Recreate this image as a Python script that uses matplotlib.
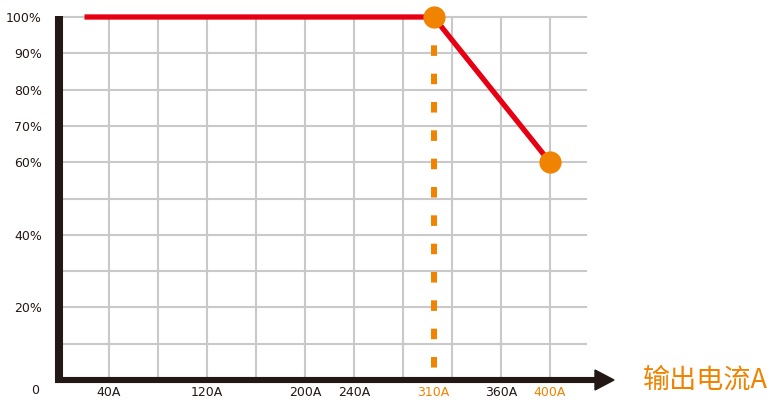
import matplotlib
matplotlib.use("Agg")
import matplotlib.pyplot as plt
from matplotlib.lines import Line2D
from matplotlib.patches import Polygon

plt.rcParams['font.family'] = ['Noto Sans CJK SC', 'DejaVu Sans']
plt.rcParams['lines.scale_dashes'] = False

# ---- data ----
curve_current = [20, 305, 400]          # A (knee drawn where picture shows it)
curve_percent = [100, 100, 60]          # % output
point_current = [305, 400]
point_percent = [100, 60]
knee_current = 305
knee_label = "310A"

x_ticks = [40, 120, 200, 240, 305, 360, 400]
x_labels = ["40A", "120A", "200A", "240A", knee_label, "360A", "400A"]
x_label_orange = [False, False, False, False, True, False, True]
y_ticks = [100, 90, 80, 70, 60, 40, 20]
y_labels = ["100%", "90%", "80%", "70%", "60%", "40%", "20%"]
x_grid = [40, 80, 120, 160, 200, 240, 280, 320, 360, 400]
y_grid = [10, 20, 30, 40, 50, 60, 70, 80, 90, 100]
x_title = "输出电流A"
y_title = "输出功率%"

RED = "#e60012"
ORANGE = "#f08300"
DARK = "#231815"
GRID = "#c9c9c9"

W, H = 779, 400
fig = plt.figure(figsize=(W / 100, H / 100), dpi=100)

def fx(px):
    return px / W

def fy(py):
    return 1 - py / H

ax = fig.add_axes([fx(60), fy(380), fx(586) - fx(60), fy(17) - fy(380)])
ax.set_xlim(0, 429.4)
ax.set_ylim(0, 100)
for s in ax.spines.values():
    s.set_visible(False)

# grid
for gx in x_grid:
    ax.axvline(gx, color=GRID, lw=1.5, zorder=1)
for gy in y_grid:
    ax.axhline(gy, color=GRID, lw=1.5, zorder=1, clip_on=False)

# dashed knee line
ln, = ax.plot([knee_current, knee_current], [100, 3], color=ORANGE, lw=4.3,
              solid_capstyle='butt', dash_capstyle='butt', zorder=3)
ln.set_dashes((7.6, 12.8))

# derating curve
ax.plot(curve_current, curve_percent, color=RED, lw=3.8, solid_capstyle='butt',
        zorder=4, clip_on=False)
ax.plot(point_current, point_percent, 'o', color=ORANGE, ms=16, mew=0,
        zorder=5, clip_on=False)

# ticks
ax.set_xticks(x_ticks)
ax.set_xticklabels(x_labels)
ax.set_yticks(y_ticks)
ax.set_yticklabels(y_labels)
ax.tick_params(axis='both', length=0, labelsize=9, labelcolor=DARK)
ax.tick_params(axis='x', pad=4.5)
ax.tick_params(axis='y', pad=13)
for lab, orange in zip(ax.get_xticklabels(), x_label_orange):
    if orange:
        lab.set_color(ORANGE)
for lab in ax.get_xticklabels() + ax.get_yticklabels():
    lab.set_family('DejaVu Sans')

# axes lines (thick L with arrow)
fig.add_artist(Line2D([fx(59), fx(59)], [fy(16), fy(383)], color=DARK, lw=5.8,
                      solid_capstyle='butt', transform=fig.transFigure))
fig.add_artist(Line2D([fx(55), fx(597)], [fy(380), fy(380)], color=DARK, lw=4.4,
                      solid_capstyle='butt', transform=fig.transFigure))
fig.add_artist(Polygon([(fx(595), fy(370)), (fx(614), fy(380)), (fx(595), fy(390))],
                       closed=True, color=DARK, transform=fig.transFigure))

fig.text(fx(35), fy(390), "0", ha='center', va='center', fontsize=9, color=DARK,
         family='DejaVu Sans')
fig.text(fx(643), fy(380), x_title, ha='left', va='center',
         fontsize=19.5, color=ORANGE)
fig.text(fx(0), fy(-3.5), y_title, ha='left', va='baseline', fontsize=19, color=ORANGE)

fig.savefig("out.png", dpi=100)
